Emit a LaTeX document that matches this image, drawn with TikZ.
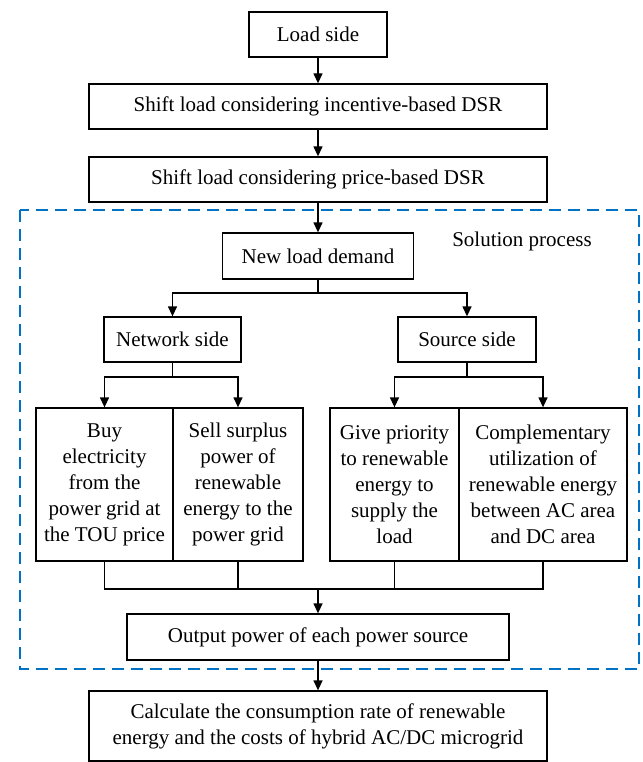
\documentclass[tikz,border=0pt]{standalone}
\usepackage{fontspec}
\setmainfont{Liberation Serif}
\usetikzlibrary{arrows.meta}
\definecolor{dashblue}{RGB}{0,114,198}
\begin{document}
\begin{tikzpicture}[x=1pt,y=-1pt,
  txt/.style={inner sep=0pt,align=center,font=\fontsize{21}{26}\selectfont},
  box/.style={txt,draw,line width=1.3pt},
  arr/.style={line width=1.3pt,-{Triangle[length=10pt,width=9pt]}},
  ln/.style={line width=1.3pt}]
\useasboundingbox (0,0) rectangle (642,762);
\draw[dashblue,line width=2pt,dash pattern=on 12pt off 7pt] (20,210) rectangle (639,669);

\node[box,minimum width=138pt,minimum height=45pt] (load) at (318,34.5) {Load side};
\node[box,minimum width=458pt,minimum height=45pt] (inc) at (318,106.5) {Shift load considering incentive-based DSR};
\node[box,minimum width=458pt,minimum height=45pt] (price) at (318,179.5) {Shift load considering price-based DSR};
\node[box,minimum width=191pt,minimum height=46pt] (newload) at (318,256) {New load demand};
\node[txt] (sol) at (522,241) {Solution process};
\node[box,minimum width=137pt,minimum height=45pt] (net) at (172.5,339.5) {Network side};
\node[box,minimum width=138pt,minimum height=45pt] (src) at (467,339.5) {Source side};

\node[box,minimum width=137pt,minimum height=153pt] (buy) at (104.5,484.5) {Buy\\electricity\\from the\\power grid at\\the TOU price};
\node[box,minimum width=130pt,minimum height=153pt] (sell) at (238,484.5) {Sell surplus\\power of\\renewable\\energy to the\\power grid};
\node[box,minimum width=129pt,minimum height=153pt] (give) at (394.5,484.5) {Give priority\\to renewable\\energy to\\supply the\\load};
\node[box,minimum width=168pt,minimum height=153pt] (comp) at (543,484.5) {Complementary\\utilization of\\renewable energy\\between AC area\\and DC area};

\node[box,minimum width=382pt,minimum height=46pt] (out) at (318,637) {Output power of each power source};
\node[box,minimum width=458pt,minimum height=70pt] (final) at (318,726) {Calculate the consumption rate of renewable\\energy and the costs of hybrid AC/DC microgrid};

\coordinate (j1) at (318,293);
\coordinate (j2) at (172.5,377);
\coordinate (j3) at (467,377);
\coordinate (m) at (318,589);

\draw[arr] (load) -- (inc);
\draw[arr] (inc) -- (price);
\draw[arr] (price) -- (newload);
\draw[ln] (newload.south) -- (j1);
\draw[arr] (j1) -| (net);
\draw[arr] (j1) -| (src);
\draw[ln] (net.south) -- (j2);
\draw[arr] (j2) -| (buy);
\draw[arr] (j2) -| (sell);
\draw[ln] (src.south) -- (j3);
\draw[arr] (j3) -| (give);
\draw[arr] (j3) -| (comp);
\draw[ln] (buy.south) |- (m);
\draw[ln] (sell.south) |- (m);
\draw[ln] (give.south) |- (m);
\draw[ln] (comp.south) |- (m);
\draw[arr] (m) -- (out);
\draw[arr] (out) -- (final);
\end{tikzpicture}
\end{document}
